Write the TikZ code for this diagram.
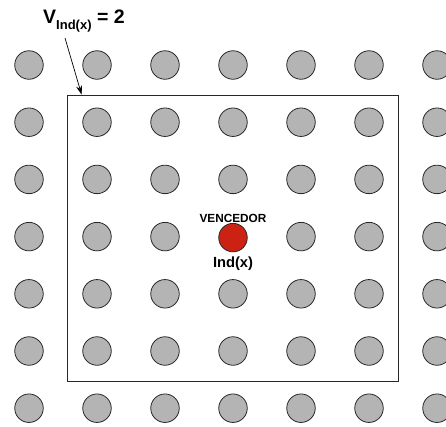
\documentclass[tikz,border=0pt]{standalone}
\usepackage{fontspec}
\setmainfont{Liberation Sans}
\usetikzlibrary{arrows.meta,calc}
\definecolor{dotgray}{RGB}{180,180,180}
\definecolor{winred}{RGB}{204,34,20}
\definecolor{edge}{RGB}{40,40,40}
\begin{document}
\begin{tikzpicture}[x=1pt,y=-1pt,
  dot/.style={circle,draw=edge,line width=0.8pt,fill=dotgray,minimum size=28.5pt,inner sep=0pt},
  windot/.style={dot,fill=winred},
  lbl/.style={inner sep=0pt,font=\bfseries}]
\useasboundingbox (0,0) rectangle (446,426);
\foreach \i in {0,...,6}{
  \foreach \j in {0,...,6}{
    \ifnum\i=3 \ifnum\j=3 \else
      \node[dot] (c-\i-\j) at ({29+68*\i},{65+57.2*\j}) {};
    \fi\else
      \node[dot] (c-\i-\j) at ({29+68*\i},{65+57.2*\j}) {};
    \fi
  }
}
\node[windot] (win) at (233,237.6) {};
\node[draw=edge,line width=0.8pt,minimum width=331pt,minimum height=286pt,inner sep=0pt] (box) at (232.5,238) {};
\node[lbl,anchor=base,font=\bfseries\fontsize{11.8}{13}\selectfont] (venc) at (233,222) {VENCEDOR};
\node[lbl,anchor=base,font=\bfseries\fontsize{14.7}{16}\selectfont] (ind) at (233,267) {Ind(x)};
\node[lbl,anchor=base west,font=\bfseries\fontsize{19.5}{22}\selectfont] (vlab) at (43,23) {V\raisebox{-6pt}{\fontsize{13}{14}\selectfont Ind(x)} = 2};
\coordinate (astart) at (65,38);
\coordinate (aend) at ($(box.north west)+(15,0)$);
\draw[-{Stealth[length=9pt,width=6pt]},line width=0.7pt] (astart) -- (aend);
\end{tikzpicture}
\end{document}
